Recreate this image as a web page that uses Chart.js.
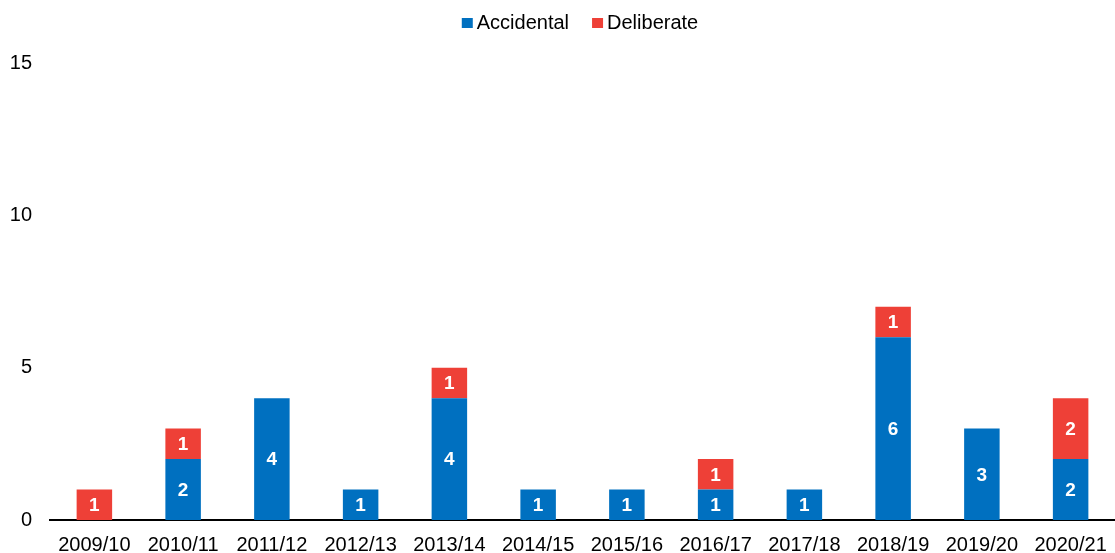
<!DOCTYPE html>
<html lang="en">
<head>
    <meta charset="UTF-8">
    <title>Accidental and deliberate</title>
    <script src="https://cdn.jsdelivr.net/npm/chart.js"></script>
    <style>
        html, body { margin: 0; padding: 0; background: #fff; }
        #wrap { width: 1115px; height: 553px; }
    </style>
</head>
<body>
    <div id="wrap"><canvas id="chart"></canvas></div>
    <script>
        const years = ['2009/10', '2010/11', '2011/12', '2012/13', '2013/14', '2014/15',
                       '2015/16', '2016/17', '2017/18', '2018/19', '2019/20', '2020/21'];
        const accidental = [0, 2, 4, 1, 4, 1, 1, 1, 1, 6, 3, 2];
        const deliberate = [1, 1, 0, 0, 1, 0, 0, 1, 0, 1, 0, 2];
        const yTicks = [0, 5, 10, 15];

        const font = 'Liberation Sans, Arial, sans-serif';

        // white numbers inside each segment
        const barLabels = {
            id: 'barLabels',
            afterDatasetsDraw(chart) {
                const ctx = chart.ctx;
                ctx.save();
                ctx.fillStyle = '#fff';
                ctx.font = 'bold 19px ' + font;
                ctx.textAlign = 'center';
                ctx.textBaseline = 'middle';
                chart.data.datasets.forEach((ds, i) => {
                    chart.getDatasetMeta(i).data.forEach((bar, j) => {
                        const v = ds.data[j];
                        if (!v) return;
                        ctx.fillText(String(v), bar.x, (bar.y + bar.base) / 2 + 1);
                    });
                });
                ctx.restore();
            }
        };

        // legend drawn by hand: small square, tight gap, at the top
        const topLegend = {
            id: 'topLegend',
            afterDraw(chart) {
                const ctx = chart.ctx;
                const box = 11, gap = 4, spacing = 23, y = 23;
                ctx.save();
                ctx.font = '20px ' + font;
                ctx.textBaseline = 'middle';
                const items = chart.data.datasets.map(ds => ({
                    text: ds.label, color: ds.backgroundColor, w: ctx.measureText(ds.label).width
                }));
                let total = items.reduce((s, it) => s + box + gap + it.w, 0) + spacing * (items.length - 1);
                let x = 580 - total / 2;
                items.forEach(it => {
                    ctx.fillStyle = it.color;
                    ctx.fillRect(x, y - 5, box, box - 1);
                    ctx.fillStyle = '#000';
                    ctx.fillText(it.text, x + box + gap, y);
                    x += box + gap + it.w + spacing;
                });
                ctx.restore();
            }
        };

        new Chart(document.getElementById('chart'), {
            type: 'bar',
            data: {
                labels: years,
                datasets: [
                    { label: 'Accidental', data: accidental, backgroundColor: '#0070C0' },
                    { label: 'Deliberate', data: deliberate, backgroundColor: '#EE4037' }
                ]
            },
            options: {
                responsive: true,
                maintainAspectRatio: false,
                animation: false,
                datasets: { bar: { barPercentage: 1, categoryPercentage: 0.4 } },
                layout: { padding: { top: 63, right: -14, bottom: -17, left: 0 } },
                plugins: {
                    tooltip: { enabled: false },
                    legend: { display: false }
                },
                scales: {
                    x: {
                        stacked: true,
                        // the plot runs a little past the right edge, as in the source
                        afterFit: axis => { axis.paddingRight = -14; },
                        grid: { display: false, drawTicks: false },
                        border: { color: '#000', width: 2 },
                        ticks: { color: '#000', padding: 13, maxRotation: 0, font: { family: font, size: 20 } }
                    },
                    y: {
                        stacked: true,
                        min: 0, max: 15,
                        afterBuildTicks: axis => { axis.ticks = yTicks.map(v => ({ value: v })); },
                        afterFit: axis => { axis.width = 50; },
                        grid: { display: false, drawTicks: false },
                        border: { display: false },
                        ticks: { color: '#000', padding: 18, font: { family: font, size: 20 } }
                    }
                }
            },
            plugins: [barLabels, topLegend]
        });
    </script>
</body>
</html>
